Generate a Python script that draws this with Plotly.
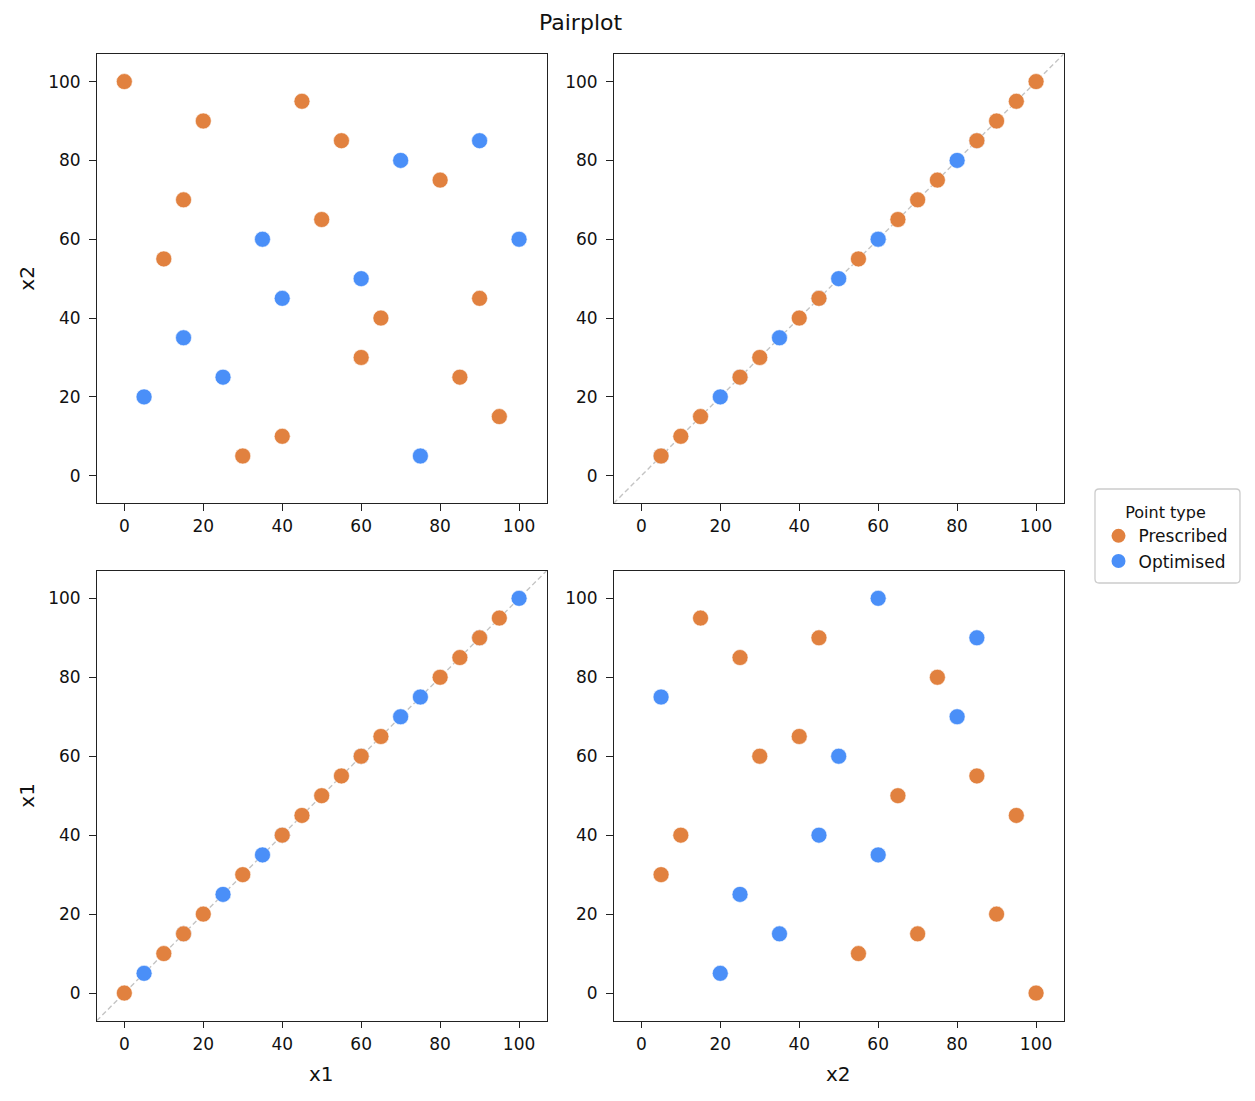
import plotly.graph_objects as go
from plotly.subplots import make_subplots

# ---- data ----
prescribed_x1 = [0, 20, 45, 55, 15, 10, 50, 80, 65, 60, 90, 85, 95, 30, 40]
prescribed_x2 = [100, 90, 95, 85, 70, 55, 65, 75, 40, 30, 45, 25, 15, 5, 10]
optimised_x1 = [70, 90, 100, 35, 40, 60, 15, 25, 5, 75]
optimised_x2 = [80, 85, 60, 60, 45, 50, 35, 25, 20, 5]
tick_vals = [0, 20, 40, 60, 80, 100]
axis_range = [-7, 107]
variables = ["x1", "x2"]

ORANGE = "#E1813F"
BLUE = "#4A8FF8"
FONT = "DejaVu Sans"

W, H = 1255, 1101
fig = make_subplots(rows=2, cols=2)

data = {
    "Prescribed": {"x1": prescribed_x1, "x2": prescribed_x2, "color": ORANGE, "rank": 1},
    "Optimised": {"x1": optimised_x1, "x2": optimised_x2, "color": BLUE, "rank": 2},
}

# rows -> y variable (top x2, bottom x1); cols -> x variable (left x1, right x2)
row_vars = ["x2", "x1"]
col_vars = ["x1", "x2"]

for r, yv in enumerate(row_vars, start=1):
    for c, xv in enumerate(col_vars, start=1):
        for name in ["Optimised", "Prescribed"]:
            d = data[name]
            fig.add_trace(
                go.Scatter(
                    x=d[xv], y=d[yv], mode="markers", name=name,
                    legendgroup=name, showlegend=False,
                    marker=dict(size=16, color=d["color"], line=dict(width=0.6, color="white")),
                ),
                row=r, col=c,
            )
        if xv == yv:
            fig.add_shape(
                type="line", x0=axis_range[0], y0=axis_range[0], x1=axis_range[1], y1=axis_range[1],
                line=dict(color="#C4C4C4", width=1.4, dash="5px,3px"), layer="below",
                row=r, col=c,
            )

# legend-only entries (no points) so the legend markers get their own size
for name in ["Prescribed", "Optimised"]:
    d = data[name]
    fig.add_trace(go.Scatter(x=[None], y=[None], mode="markers", name=name,
                             legendgroup=name, legendrank=d["rank"], showlegend=True,
                             marker=dict(size=14, color=d["color"])), row=1, col=1)

xdom = [[96.7 / W, 546.7 / W], [613.7 / W, 1063.7 / W]]
ydom = [[1 - 503.3 / H, 1 - 54 / H], [1 - 1020.7 / H, 1 - 570.7 / H]]

common = dict(
    range=axis_range, tickvals=tick_vals, ticks="outside", ticklen=6.5, tickwidth=1.3,
    tickcolor="#222222", showline=True, linecolor="#222222", linewidth=1.3, mirror=True,
    showgrid=False, zeroline=False, automargin=False,
    tickfont=dict(family=FONT, size=17, color="#111111"),
)

for r in range(1, 3):
    for c in range(1, 3):
        fig.update_xaxes(domain=xdom[c - 1], ticklabelstandoff=1, **common, row=r, col=c)
        fig.update_yaxes(domain=ydom[r - 1], ticklabelstandoff=5, **common, row=r, col=c)

annotations = [
    dict(text="Pairplot", x=580.2 / W, y=1 - 23 / H, xref="paper", yref="paper",
         showarrow=False, font=dict(family=FONT, size=22, color="#111111"),
         xanchor="center", yanchor="middle"),
]
for c, xv in enumerate(col_vars):
    cx = (xdom[c][0] + xdom[c][1]) / 2
    annotations.append(dict(text=xv, x=cx, y=1 - 1074 / H, xref="paper", yref="paper",
                            showarrow=False, font=dict(family=FONT, size=20, color="#111111"),
                            xanchor="center", yanchor="middle"))
for r, yv in enumerate(row_vars):
    cy = (ydom[r][0] + ydom[r][1]) / 2
    annotations.append(dict(text=yv, x=27 / W, y=cy, xref="paper", yref="paper", textangle=-90,
                            showarrow=False, font=dict(family=FONT, size=20, color="#111111"),
                            xanchor="center", yanchor="middle"))

# legend frame (rounded rectangle)
x0, x1, y0, y1, rad = 1095 / W, 1240 / W, 1 - 583 / H, 1 - 489 / H, 4
rx, ry = rad / W, rad / H
legend_path = (
    f"M {x0 + rx},{y0} L {x1 - rx},{y0} Q {x1},{y0} {x1},{y0 + ry} "
    f"L {x1},{y1 - ry} Q {x1},{y1} {x1 - rx},{y1} L {x0 + rx},{y1} "
    f"Q {x0},{y1} {x0},{y1 - ry} L {x0},{y0 + ry} Q {x0},{y0} {x0 + rx},{y0} Z"
)
fig.add_shape(type="path", path=legend_path, xref="paper", yref="paper",
              line=dict(color="#CCCCCC", width=1.3), fillcolor="white", layer="below")

fig.update_layout(
    width=W, height=H, margin=dict(l=0, r=0, t=0, b=0),
    paper_bgcolor="white", plot_bgcolor="white",
    annotations=annotations,
    legend=dict(
        title=dict(text="Point type", side="top center",
                   font=dict(family=FONT, size=16, color="#111111")),
        font=dict(family=FONT, size=17, color="#111111"),
        x=1098.5 / W, xanchor="left", y=1 - 538 / H, yanchor="middle",
        borderwidth=0, bgcolor="rgba(0,0,0,0)",
        itemsizing="trace", tracegroupgap=0,
    ),
    showlegend=True,
)

fig.write_html("out.html")
